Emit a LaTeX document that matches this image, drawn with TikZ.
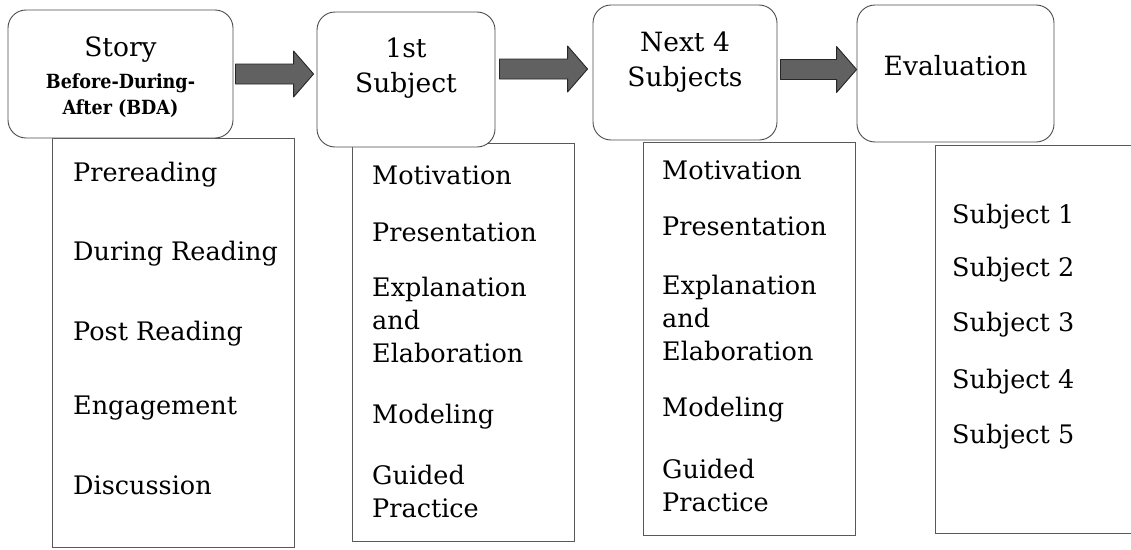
\documentclass[tikz,border=0pt]{standalone}
\usepackage{fontspec}
\setmainfont{DejaVu Serif}
\newfontfamily\condserif{DejaVu Serif Condensed}
\usetikzlibrary{calc}

\tikzset{
  stage/.style={draw=black!70, line width=0.9pt, rounded corners=18pt, fill=white, inner sep=0pt},
  listbox/.style={draw=black!65, line width=0.8pt, inner sep=0pt},
  item/.style={anchor=west, inner sep=0pt, align=left, font=\fontsize{25.5}{33}\selectfont},
  title/.style={inner sep=0pt, align=center, font=\fontsize{26.5}{35}\selectfont},
  subtitle/.style={inner sep=0pt, align=center, font=\condserif\bfseries\fontsize{19.5}{26}\selectfont},
  fatarrow/.style={draw=black!85, fill=black!62, line width=0.9pt, line join=round,
    to path={let \p1=(\tikztostart), \p2=(\tikztotarget) in
      (\x1,\y1+10pt) -- (\x2-20pt,\y1+10pt) -- (\x2-20pt,\y1+23pt) -- (\x2,\y1)
      -- (\x2-20pt,\y1-23pt) -- (\x2-20pt,\y1-10pt) -- (\x1,\y1-10pt) -- cycle}}
}

\begin{document}
\begin{tikzpicture}[x=1pt,y=-1pt]
  \clip (0,0) rectangle (1131,549);

  % lists, drawn first so the stages sit over their top edges
  \node[listbox, minimum width=242pt, minimum height=409pt] (storylist) at (173,342.5) {};
  \node[listbox, minimum width=222pt, minimum height=398pt] (firstlist) at (463,342) {};
  \node[listbox, minimum width=212pt, minimum height=393pt] (nextlist) at (749,338.5) {};
  \node[listbox, minimum width=260pt, minimum height=388pt] (evallist) at (1065,339) {};

  % stages
  \node[stage, minimum width=225pt, minimum height=128pt] (story) at (120.5,74) {};
  \node[stage, minimum width=178pt, minimum height=135pt] (first) at (406,79.5) {};
  \node[stage, minimum width=184pt, minimum height=135pt] (next) at (685,72.5) {};
  \node[stage, minimum width=197pt, minimum height=137pt] (eval) at (955.5,73.5) {};

  % stage titles
  \node[title] (storytitle) at (120.5,50) {Story};
  \node[subtitle] (storysub) at (120.5,96) {Before-During-\\After (BDA)};
  \node[title] (firsttitle) at (406,68) {1st\\Subject};
  \node[title] (nexttitle) at (685,62) {Next 4\\Subjects};
  \node[title] (evaltitle) at (955.5,66) {Evaluation};

  % block arrows between stages
  \draw[fatarrow] ([xshift=2pt]story.east) to ([xshift=-3pt]first.west);
  \draw[fatarrow] ([xshift=4pt,yshift=10.5pt]first.east) to ([xshift=-5pt]next.west);
  \draw[fatarrow] ([xshift=3pt,yshift=3pt]next.east) to (eval.west);

  % Story list
  \node[item] (prereading) at (73,175) {Prereading};
  \node[item] (during) at (73,254) {During Reading};
  \node[item] (post) at (73,334) {Post Reading};
  \node[item] (engage) at (73,408) {Engagement};
  \node[item] (discuss) at (73,485) {Discussion};

  % 1st Subject list
  \node[item] (motivA) at (372,175) {Motivation};
  \node[item] (presentA) at (372,232) {Presentation};
  \node[item] (explainA) at (372,320) {Explanation\\and\\Elaboration};
  \node[item] (modelA) at (372,417) {Modeling};
  \node[item] (guidedA) at (372,491) {Guided\\Practice};

  % Next 4 Subjects list
  \node[item] (motivB) at (662,170) {Motivation};
  \node[item] (presentB) at (662,226) {Presentation};
  \node[item] (explainB) at (662,318) {Explanation\\and\\Elaboration};
  \node[item] (modelB) at (662,410) {Modeling};
  \node[item] (guidedB) at (662,485) {Guided\\Practice};

  % Evaluation list
  \foreach \n/\y in {1/217,2/270,3/325,4/382,5/437}
    \node[item] (subj\n) at (952,\y) {Subject \n};
\end{tikzpicture}
\end{document}
